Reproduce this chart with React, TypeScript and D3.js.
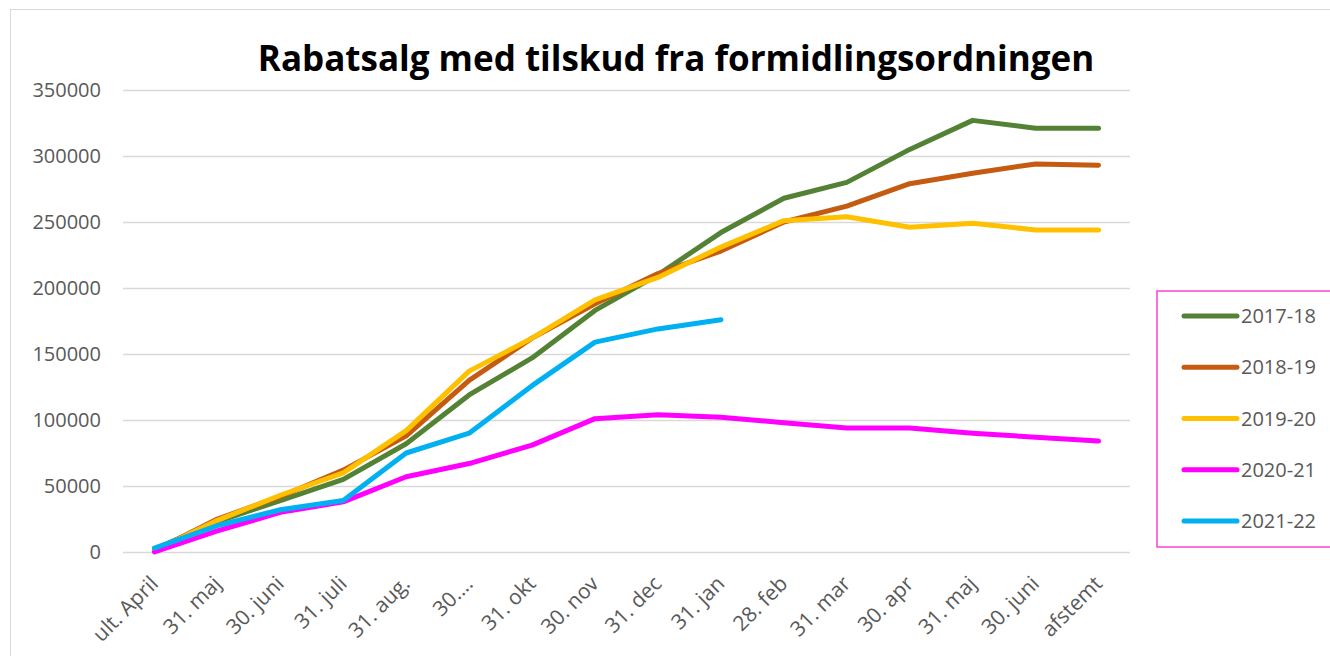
import React, { useRef, useEffect } from 'react';
import * as d3 from 'd3';

const categories = [
  'ult. April', '31. maj', '30. juni', '31. juli', '31. aug.', '30....',
  '31. okt', '30. nov', '31. dec', '31. jan', '28. feb', '31. mar',
  '30. apr', '31. maj ', '30. juni ', 'afstemt',
];

const seasons = ['2017-18', '2018-19', '2019-20', '2020-21', '2021-22'];
const colors = ['#548235', '#C55A11', '#FFC000', '#FF00FF', '#00B0F0'];

const s2017 = [2000, 23000, 39000, 55000, 82000, 119000, 147000, 183000, 210000, 242000, 268000, 280000, 305000, 327000, 321000, 321000];
const s2018 = [1000, 25000, 42000, 62000, 88000, 130000, 162000, 188000, 211000, 228000, 250000, 262000, 279000, 287000, 294000, 293000];
const s2019 = [1000, 24000, 43000, 60000, 92000, 137000, 162000, 191000, 208000, 231000, 251000, 254000, 246000, 249000, 244000, 244000];
const s2020 = [0, 16000, 30000, 38000, 57000, 67000, 81000, 101000, 104000, 102000, 98000, 94000, 94000, 90000, 87000, 84000];
const s2021 = [3000, 20000, 32000, 39000, 75000, 90000, 126000, 159000, 169000, 176000];

const yTicks = [0, 50000, 100000, 150000, 200000, 250000, 300000, 350000];

const App = () => {
  const ref = useRef<SVGSVGElement>(null);

  useEffect(() => {
    const svg = d3.select(ref.current);
    svg.selectAll('*').remove();
    const font = 'Open Sans, sans-serif';

    svg.append('rect')
      .attr('x', 10.5).attr('y', 9.5).attr('width', 1340).attr('height', 670)
      .attr('fill', 'white').attr('stroke', '#D9D9D9').attr('stroke-width', 1);

    const left = 123, right = 1130, top = 90, bottom = 552;

    const x = d3.scaleBand().domain(categories).range([left, right]);
    const y = d3.scaleLinear().domain([0, 350000]).range([bottom, top]);

    const yAxis = d3.axisLeft(y).tickValues(yTicks).tickSize(-(right - left)).tickPadding(22).tickFormat(d3.format('d'));
    const ga = svg.append('g').attr('transform', `translate(${left},0)`).call(yAxis);
    ga.select('.domain').remove();
    ga.selectAll('line').attr('stroke', '#D9D9D9').attr('stroke-width', 1.5);
    ga.selectAll('text').attr('font-family', font).attr('font-size', '20px').attr('fill', '#595959');

    const xAxis = d3.axisBottom(x).tickSize(0).tickPadding(0);
    const gx = svg.append('g').attr('transform', `translate(0,${bottom})`).call(xAxis);
    gx.select('.domain').remove();
    gx.selectAll('text')
      .attr('font-family', font).attr('font-size', '21px').attr('fill', '#595959')
      .style('text-anchor', 'end')
      .attr('y', 0).attr('dy', 0)
      .attr('transform', 'translate(5,33) rotate(-45)');

    const data = [s2017, s2018, s2019, s2020, s2021];
    const line = d3.line<number>()
      .x((_, i) => (x(categories[i]) as number) + x.bandwidth() / 2)
      .y((d) => y(d));

    data.forEach((s, i) => {
      svg.append('path')
        .attr('d', line(s) as string)
        .attr('fill', 'none')
        .attr('stroke', colors[i])
        .attr('stroke-width', 5)
        .attr('stroke-linejoin', 'round')
        .attr('stroke-linecap', 'round');
    });

    svg.append('text')
      .attr('x', 676).attr('y', 71)
      .attr('text-anchor', 'middle')
      .attr('font-family', font).attr('font-weight', 'bold').attr('font-size', '35px')
      .attr('fill', '#000')
      .text('Rabatsalg med tilskud fra formidlingsordningen');

    const lg = svg.append('g');
    lg.append('rect')
      .attr('x', 1157).attr('y', 291).attr('width', 200).attr('height', 256)
      .attr('fill', 'white').attr('stroke', '#FF3FCF').attr('stroke-width', 1.5);
    const ly = d3.scalePoint().domain(seasons).range([316, 521]);
    seasons.forEach((s, i) => {
      const yy = ly(s) as number;
      lg.append('line')
        .attr('x1', 1184).attr('x2', 1237).attr('y1', yy).attr('y2', yy)
        .attr('stroke', colors[i]).attr('stroke-width', 5).attr('stroke-linecap', 'round');
      lg.append('text')
        .attr('x', 1241).attr('y', yy).attr('dy', '0.35em')
        .attr('font-family', font).attr('font-size', '20px').attr('fill', '#595959')
        .text(s);
    });
  }, []);

  return <svg ref={ref} width={1330} height={656} style={{ position: 'absolute', left: 0, top: 0 }}></svg>;
};

export default App;
